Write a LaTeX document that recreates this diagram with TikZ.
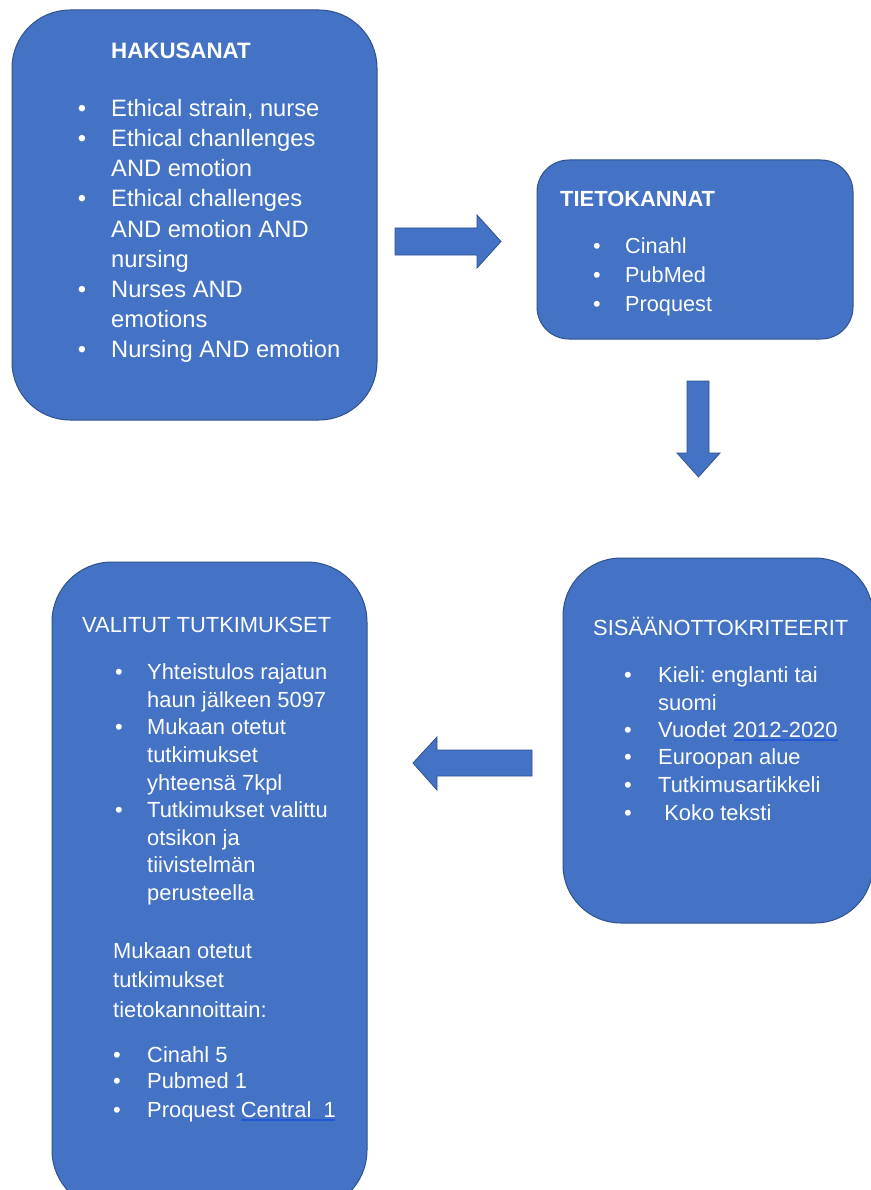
\documentclass[tikz,border=0pt]{standalone}
\usepackage{fontspec}
\setmainfont{Liberation Sans}
\frenchspacing
\definecolor{boxfill}{HTML}{4472C4}
\definecolor{boxline}{HTML}{2F528F}
\definecolor{ulblue}{HTML}{2457D6}
\tikzset{
  box/.style={fill=boxfill, draw=boxline, line width=1pt, inner sep=0pt},
  blockarrow/.style={fill=boxfill, draw=boxline, line width=0.8pt, line join=miter},
  txt/.style={text=white, inner sep=0pt, anchor=base west},
  bul/.style={text=white, inner sep=0pt, anchor=base},
  fa/.style={font=\fontsize{23.7}{28}\selectfont},
  fat/.style={font=\fontsize{22.3}{26}\selectfont\bfseries},
  fb/.style={font=\fontsize{21.7}{26}\selectfont},
  fbt/.style={font=\fontsize{21.9}{26}\selectfont\bfseries},
  fc/.style={font=\fontsize{21.9}{26}\selectfont},
  uline/.style={draw=ulblue, line width=1.2pt},
}
\begin{document}
\begin{tikzpicture}[x=1pt,y=-1pt]
\useasboundingbox (0,0) rectangle (870,1190);
\fill[white] (0,0) rectangle (870,1190);

% boxes
\node[box, rounded corners=58pt, minimum width=365pt, minimum height=410pt] (hak) at (194.5,215) {};
\node[box, rounded corners=32pt, minimum width=316pt, minimum height=179pt] (tie) at (695,249.5) {};
\node[box, rounded corners=58pt, minimum width=310pt, minimum height=365pt] (sis) at (718,740.5) {};
\node[box, rounded corners=60pt, minimum width=315pt, minimum height=648pt] (val) at (209.5,886) {};

% block arrows
\draw[blockarrow] (395,228) -- (477,228) -- (477,215) -- (501,241.5) -- (477,268) -- (477,255) -- (395,255) -- cycle;
\draw[blockarrow] (687,381) -- (709,381) -- (709,453) -- (720,453) -- (698.5,477) -- (677,453) -- (687,453) -- cycle;
\draw[blockarrow] (532,750) -- (437,750) -- (437,737) -- (413,763) -- (437,790) -- (437,776) -- (532,776) -- cycle;

% HAKUSANAT
\node[txt, fat] (hat) at (111,59) {HAKUSANAT};
\foreach \y/\b/\t [count=\i] in {
  117/1/{Ethical strain, nurse},
  147/1/{Ethical chanllenges},
  177/0/{AND emotion},
  207/1/{Ethical challenges},
  237/0/{AND emotion AND},
  267/0/{nursing},
  297/1/{Nurses AND},
  327/0/{emotions},
  357/1/{Nursing AND emotion}} {
  \node[txt, fa] (ha\i) at (111,\y) {\t};
  \ifnum\b=1 \node[bul, fa] (hab\i) at (82,\y) {•};\fi
}

% TIETOKANNAT
\node[txt, fbt] (tit) at (560,207) {TIETOKANNAT};
\foreach \y/\t [count=\i] in {253/Cinahl, 282/PubMed, 311/Proquest} {
  \node[txt, fb] (ti\i) at (625,\y) {\t};
  \node[bul, fb] (tib\i) at (597,\y) {•};
}

% SISAANOTTOKRITEERIT
\node[txt, fc] (sit) at (593,635) {SISÄÄNOTTOKRITEERIT};
\foreach \y/\b/\t [count=\i] in {
  682/1/{Kieli: englanti tai},
  710/0/{suomi},
  737/1/{Vuodet 2012-2020},
  764/1/{Euroopan alue},
  792/1/{Tutkimusartikkeli},
  820/1/{\ Koko teksti}} {
  \node[txt, fc] (si\i) at (658,\y) {\t};
  \ifnum\b=1 \node[bul, fc] (sib\i) at (628,\y) {•};\fi
}
\draw[uline] (734,740) -- (838,740);

% VALITUT TUTKIMUKSET
\node[txt, fc] (vat) at (82,632) {VALITUT TUTKIMUKSET};
\foreach \y/\b/\t [count=\i] in {
  679/1/{Yhteistulos rajatun},
  707/0/{haun jälkeen 5097},
  734/1/{Mukaan otetut},
  762/0/{tutkimukset},
  790/0/{yhteensä 7kpl},
  817/1/{Tutkimukset valittu},
  845/0/{otsikon ja},
  872/0/{tiivistelmän},
  900/0/{perusteella}} {
  \node[txt, fc] (va\i) at (147,\y) {\t};
  \ifnum\b=1 \node[bul, fc] (vab\i) at (119,\y) {•};\fi
}
\foreach \y/\t [count=\i] in {958/{Mukaan otetut}, 987/{tutkimukset}, 1017/{tietokannoittain:}} {
  \node[txt, fc] (vp\i) at (113,\y) {\t};
}
\foreach \y/\t [count=\i] in {1062/{Cinahl 5}, 1088/{Pubmed 1}, 1117/{Proquest Central\ \ 1}} {
  \node[txt, fc] (vc\i) at (147,\y) {\t};
  \node[bul, fc] (vcb\i) at (117,\y) {•};
}
\draw[uline] (241,1120) -- (335,1120);
\end{tikzpicture}
\end{document}
